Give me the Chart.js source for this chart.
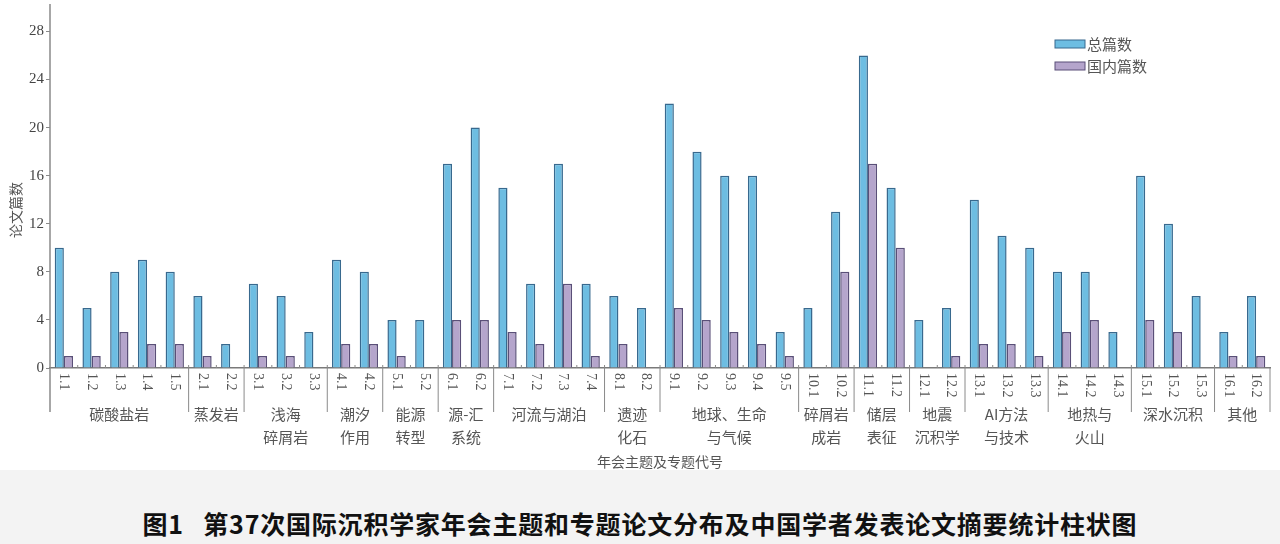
<!DOCTYPE html>
<html>
<head>
<meta charset="utf-8">
<script src="https://cdn.jsdelivr.net/npm/chart.js@4.4.1/dist/chart.umd.min.js"></script>
<style>
    html, body { margin: 0; padding: 0; background: #fff; }
    #wrap { width: 1280px; height: 470px; position: relative; }
    #caption {
        width: 1280px; height: 74px; background: #f3f3f3;
        display: flex; align-items: center; justify-content: center;
        font-family: "Noto Sans CJK SC", sans-serif; font-weight: bold;
        font-size: 25px; color: #111; padding-top: 32px; box-sizing: border-box;
        letter-spacing: 0.8px;
    }
</style>
</head>
<body>
<div id="wrap"><canvas id="myChart" width="1280" height="470"></canvas></div>
<div id="caption">图1&nbsp;&nbsp;&nbsp;第37次国际沉积学家年会主题和专题论文分布及中国学者发表论文摘要统计柱状图</div>
<script>
const codes = ['1.1', '1.2', '1.3', '1.4', '1.5', '2.1', '2.2', '3.1', '3.2', '3.3',
    '4.1', '4.2', '5.1', '5.2', '6.1', '6.2', '7.1', '7.2', '7.3', '7.4',
    '8.1', '8.2', '9.1', '9.2', '9.3', '9.4', '9.5', '10.1', '10.2', '11.1',
    '11.2', '12.1', '12.2', '13.1', '13.2', '13.3', '14.1', '14.2', '14.3', '15.1',
    '15.2', '15.3', '16.1', '16.2'];
const totalCounts = [10, 5, 8, 9, 8, 6, 2, 7, 6, 3,
    9, 8, 4, 4, 17, 20, 15, 7, 17, 7,
    6, 5, 22, 18, 16, 16, 3, 5, 13, 26,
    15, 4, 5, 14, 11, 10, 8, 8, 3, 16,
    12, 6, 3, 6];
const domesticCounts = [1, 1, 3, 2, 2, 1, 0, 1, 1, 0,
    2, 2, 1, 0, 4, 4, 3, 2, 7, 1,
    2, 0, 5, 4, 3, 2, 1, 0, 8, 17,
    10, 0, 1, 2, 2, 1, 3, 4, 0, 4,
    3, 0, 1, 1];
const groupNames = ['碳酸盐岩', '蒸发岩', '浅海\n碎屑岩', '潮汐\n作用', '能源\n转型', '源-汇\n系统',
    '河流与湖泊', '遗迹\n化石', '地球、生命\n与气候', '碎屑岩\n成岩', '储层\n表征', '地震\n沉积学',
    'AI方法\n与技术', '地热与\n火山', '深水沉积', '其他'];
const groupSizes = [5, 2, 3, 2, 2, 2, 4, 2, 5, 2, 2, 2, 3, 3, 3, 2];
const yTicks = [0, 4, 8, 12, 16, 20, 24, 28];
const seriesNames = ['总篇数', '国内篇数'];

const cjkFont = '"Noto Sans CJK SC", sans-serif';
const numFont = '"Liberation Serif", "DejaVu Serif", serif';

const decorPlugin = {
    id: 'decor',
    afterDraw(chart) {
        const {ctx, chartArea} = chart;
        const x = chart.scales.x;
        const zeroY = chart.scales.y.getPixelForValue(0);
        ctx.save();

        // y axis line, runs on below zero
        ctx.strokeStyle = '#8a8a8a';
        ctx.lineWidth = 1.5;
        ctx.beginPath();
        ctx.moveTo(chartArea.left, 4);
        ctx.lineTo(chartArea.left, zeroY + 44);
        ctx.stroke();

        // small ticks between categories
        ctx.lineWidth = 1;
        for (let i = 1; i < codes.length; i++) {
            const px = (x.getPixelForValue(i - 1) + x.getPixelForValue(i)) / 2;
            ctx.beginPath();
            ctx.moveTo(px, zeroY);
            ctx.lineTo(px, zeroY - 3);
            ctx.stroke();
        }

        // rotated code labels
        ctx.fillStyle = '#555';
        ctx.font = '14px ' + numFont;
        ctx.textAlign = 'left';
        ctx.textBaseline = 'middle';
        codes.forEach((c, i) => {
            ctx.save();
            ctx.translate(x.getPixelForValue(i), zeroY + 5);
            ctx.rotate(Math.PI / 2);
            ctx.fillText(c, 0, 0);
            ctx.restore();
        });

        // group separators and names
        ctx.font = '15px ' + cjkFont;
        ctx.textAlign = 'center';
        ctx.textBaseline = 'middle';
        let start = 0;
        groupSizes.forEach((n, g) => {
            const end = start + n - 1;
            const sepX = end + 1 < codes.length
                ? (x.getPixelForValue(end) + x.getPixelForValue(end + 1)) / 2
                : chartArea.right;
            ctx.beginPath();
            ctx.moveTo(sepX, zeroY);
            ctx.lineTo(sepX, zeroY + 44);
            ctx.stroke();
            const cx = (x.getPixelForValue(start) + x.getPixelForValue(end)) / 2;
            groupNames[g].split('\n').forEach((line, k) => {
                ctx.fillText(line, cx, zeroY + 46 + k * 23);
            });
            start = end + 1;
        });

        // axis titles
        ctx.font = '14px ' + cjkFont;
        ctx.fillText('年会主题及专题代号', (chartArea.left + chartArea.right) / 2, zeroY + 94);
        ctx.save();
        ctx.translate(16, 210);
        ctx.rotate(-Math.PI / 2);
        ctx.fillText('论文篇数', 0, 0);
        ctx.restore();

        // legend
        ctx.textAlign = 'left';
        ctx.font = '15px ' + cjkFont;
        chart.data.datasets.forEach((ds, k) => {
            const ly = 44 + k * 22;
            ctx.fillStyle = ds.backgroundColor;
            ctx.strokeStyle = ds.borderColor;
            ctx.fillRect(1055, ly - 4, 30, 8);
            ctx.strokeRect(1055, ly - 4, 30, 8);
            ctx.fillStyle = '#555';
            ctx.fillText(ds.label, 1087, ly);
        });
        ctx.restore();
    }
};

const ctxL = document.getElementById('myChart').getContext('2d');
const myBarChart = new Chart(ctxL, {
    type: 'bar',
    data: {
        labels: codes,
        datasets: [{
            label: seriesNames[0],
            data: totalCounts,
            backgroundColor: '#6dbde2',
            borderColor: '#38698e',
            borderWidth: 1.5
        }, {
            label: seriesNames[1],
            data: domesticCounts,
            backgroundColor: '#b5a5cc',
            borderColor: '#5a4f78',
            borderWidth: 1.5
        }]
    },
    options: {
        responsive: false,
        animation: false,
        layout: {padding: {top: 2, right: 10}},
        categoryPercentage: 0.66,
        barPercentage: 1,
        plugins: {legend: {display: false}, tooltip: {enabled: false}},
        scales: {
            x: {
                grid: {display: false},
                border: {color: '#7a7a7a', width: 1.5},
                ticks: {display: false},
                afterFit: (scale) => { scale.height = 102; }
            },
            y: {
                min: 0,
                max: 29.7,
                afterFit: (scale) => { scale.width = 50; },
                afterBuildTicks: (scale) => { scale.ticks = yTicks.map(v => ({value: v})); },
                grid: {drawOnChartArea: false, tickLength: 4, color: '#8a8a8a'},
                border: {display: false},
                ticks: {
                    color: '#444',
                    padding: 2,
                    font: {family: numFont, size: 15}
                }
            }
        }
    },
    plugins: [decorPlugin]
});
</script>
</body>
</html>
